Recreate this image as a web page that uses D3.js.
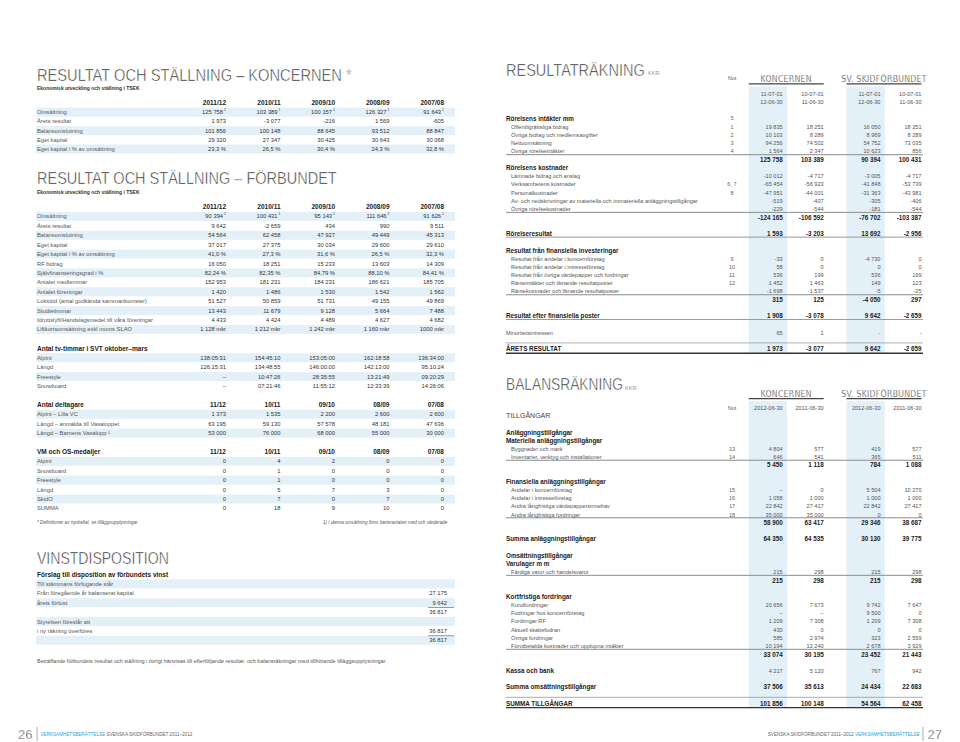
<!DOCTYPE html>
<html>
<head>
<meta charset="utf-8">
<script src="https://cdn.jsdelivr.net/npm/d3@7"></script>
<style>
body { margin: 0; background: #fff; }
svg text { font-family: "Liberation Sans", Arial, sans-serif; fill: #4a4a4a; }
svg text.ttl { font-family: "Liberation Sans", Arial, sans-serif; fill: #222; stroke: #fff; stroke-width: 0.55px; }
svg text.pg { font-family: "Liberation Sans", Arial, sans-serif; fill: #333; stroke: #fff; stroke-width: 0.4px; }
svg text.grp { font-family: "Liberation Sans Narrow", "DejaVu Sans Condensed", sans-serif; fill: #333; stroke: #fff; stroke-width: 0.25px; }
</style>
</head>
<body>
<div id="chart"></div>
<script>

// ---------- left page data ----------
var years = ["2011/12", "2010/11", "2009/10", "2008/09", "2007/08"];
var seasons = ["11/12", "10/11", "09/10", "08/09", "07/08"];

var koncernLabels = ["Omsättning", "Årets resultat", "Balansomslutning", "Eget kapital", "Eget kapital i % av omsättning"];
var koncernValues = [
    [125758, 103389, 100157, 126327, 91643],
    [1973, -3077, -216, 1569, -605],
    [101856, 100148, 88645, 93512, 88847],
    [29320, 27347, 30425, 30643, 30068],
    [23.3, 26.5, 30.4, 24.3, 32.8]
];
var koncernFormats = ["n", "n", "n", "n", "p1"];
var koncernNotes = ["1", "", "", "", ""];

var forbundLabels = ["Omsättning", "Årets resultat", "Balansomslutning", "Eget kapital",
    "Eget kapital i % av omsättning", "RF bidrag", "Självfinansieringsgrad i %", "Antalet medlemmar",
    "Antalet föreningar", "Lokstöd (antal godkända sammankomster)", "Studietimmar",
    "Idrottslyft/Handslagsmedel till våra föreningar", "Liftkortsomsättning exkl moms SLAO"];
var forbundValues = [
    [90394, 100431, 95143, 111646, 91626],
    [9642, -2659, 434, 990, 9511],
    [54564, 62458, 47927, 49449, 45313],
    [37017, 27375, 30034, 29600, 29610],
    [41.0, 27.3, 31.6, 26.5, 32.3],
    [16050, 18251, 15233, 13603, 14309],
    [82.24, 82.35, 84.79, 88.10, 84.41],
    [152953, 181231, 184231, 186621, 185705],
    [1420, 1486, 1530, 1542, 1562],
    [51527, 50859, 51731, 49155, 49869],
    [13443, 11679, 9128, 5664, 7488],
    [4433, 4424, 4489, 4627, 4682],
    [1128, 1212, 1242, 1160, "1000 mkr"]
];
var forbundFormats = ["n", "n", "n", "n", "p1", "n", "p2", "n", "n", "n", "n", "n", "mkr"];
var forbundNotes = ["1", "", "", "", "", "", "", "", "", "", "", "", ""];

var svtLabels = ["Alpint", "Längd", "Freestyle", "Snowboard"];
var svtValues = [
    ["138:05:31", "154:45:10", "153:05:00", "162:18:58", "136:34:00"],
    ["126:15:31", "134:48:55", "146:00:00", "142:13:00", "95:10:24"],
    [null, "10:47:26", "28:35:55", "13:21:49", "09:20:29"],
    [null, "07:21:46", "11:55:12", "12:33:39", "14:26:06"]
];

var deltagareLabels = ["Alpint – Lilla VC", "Längd – anmälda till Vasaloppet", "Längd – Barnens Vasalopp ¹"];
var deltagareValues = [
    [1373, 1535, 2200, 2600, 2600],
    [63195, 59130, 57578, 48181, 47636],
    [53000, 76000, 68000, 55000, 30000]
];

var medalLabels = ["Alpint", "Snowboard", "Freestyle", "Längd", "SkidO", "SUMMA"];
var medalValues = [
    [0, 4, 2, 0, 0],
    [0, 1, 0, 0, 0],
    [0, 1, 0, 0, 0],
    [0, 5, 7, 3, 0],
    [0, 7, 0, 7, 0],
    [0, 18, 9, 10, 0]
];

var vinstLabels = ["Till stämmans förfogande står", "Från föregående år balanserat kapital", "årets förlust", "",
    "Styrelsen föreslår att", "i ny räkning överföres", ""];
var vinstValues = [null, 27175, 9642, 36817, null, 36817, 36817];
var vinstSums = [false, false, false, true, false, false, true];

// ---------- right page data ----------
var groups = ["KONCERNEN", "SV. SKIDFÖRBUNDET"];
var resultPeriods = [["11-07-01", "12-06-30"], ["10-07-01", "11-06-30"]];
var balansDates = ["2012-06-30", "2011-06-30"];

var resultRows = [
    {label: "Rörelsens intäkter mm", note: "5", kind: "head"},
    {label: "Offentligrättsliga bidrag", note: "1", values: [19835, 18251, 16050, 18251]},
    {label: "Övriga bidrag och medlemsavgifter", note: "2", values: [10103, 8289, 8969, 8289]},
    {label: "Nettoomsättning", note: "3", values: [94256, 74502, 54752, 73035]},
    {label: "Övriga rörelseintäkter", note: "4", values: [1564, 2347, 10623, 856]},
    {kind: "sum", values: [125758, 103389, 90394, 100431]},
    {label: "Rörelsens kostnader", kind: "head"},
    {label: "Lämnade bidrag och anslag", values: [-10012, -4717, -3005, -4717]},
    {label: "Verksamhetens kostnader", note: "6, 7", values: [-65454, -56923, -41848, -53739]},
    {label: "Personalkostnader", note: "8", values: [-47951, -44001, -31363, -43981]},
    {label: "Av- och nedskrivningar av materiella och immateriella anläggningstillgångar", values: [-519, -407, -305, -406]},
    {label: "Övriga rörelsekostnader", values: [-229, -544, -181, -544]},
    {kind: "sum", values: [-124165, -106592, -76702, -103387]},
    {label: "Rörelseresultat", kind: "keyRule", values: [1593, -3203, 13692, -2956]},
    {label: "Resultat från finansiella investeringar", kind: "head"},
    {label: "Resultat från andelar i koncernföretag", note: "9", values: [-33, 0, -4730, 0]},
    {label: "Resultat från andelar i intresseföretag", note: "10", values: [58, 0, 0, 0]},
    {label: "Resultat från övriga värdepapper och fordringar", note: "11", values: [536, 199, 536, 199]},
    {label: "Ränteintäkter och liknande resultatposter", note: "12", values: [1452, 1463, 149, 123]},
    {label: "Räntekostnader och liknande resultatposter", values: [-1698, -1537, -5, -25]},
    {kind: "sum", values: [315, 125, -4050, 297]},
    {label: "Resultat efter finansiella poster", kind: "keyRule", values: [1908, -3078, 9642, -2659]},
    {label: "Minoritetsintressen", kind: "plain", values: [65, 1, "-", "-"]},
    {label: "ÅRETS RESULTAT", kind: "total", values: [1973, -3077, 9642, -2659]}
];

var balansRows = [
    {label: "TILLGÅNGAR", kind: "section"},
    {label: "Anläggningstillgångar", kind: "head"},
    {label: "Materiella anläggningstillgångar", kind: "head"},
    {label: "Byggnader och mark", note: "13", values: [4804, 577, 419, 577]},
    {label: "Inventarier, verktyg och installationer", note: "14", values: [646, 541, 365, 511]},
    {kind: "sum", values: [5450, 1118, 784, 1088]},
    {label: "Finansiella anläggningstillgångar", kind: "head"},
    {label: "Andelar i koncernföretag", note: "15", values: [null, 0, 5504, 10270]},
    {label: "Andelar i intresseföretag", note: "16", values: [1058, 1000, 1000, 1000]},
    {label: "Andra långfristiga värdepappersinnehav", note: "17", values: [22842, 27417, 22842, 27417]},
    {label: "Andra långfristiga fordringar", note: "18", values: [35000, 35000, 0, 0]},
    {kind: "sum", values: [58900, 63417, 29346, 38687]},
    {label: "Summa anläggningstillgångar", kind: "key", values: [64350, 64535, 30130, 39775]},
    {label: "Omsättningstillgångar", kind: "head"},
    {label: "Varulager  m m", kind: "head"},
    {label: "Färdiga varor och handelsvaror", values: [215, 298, 215, 298]},
    {kind: "sum", values: [215, 298, 215, 298]},
    {label: "Kortfristiga fordringar", kind: "head"},
    {label: "Kundfordringar", values: [20656, 7673, 9742, 7647]},
    {label: "Fodringar hos koncernföretag", values: [null, null, 9500, 0]},
    {label: "Fordringar RF", values: [1209, 7308, 1209, 7308]},
    {label: "Aktuell skattefodran", values: [430, 0, 0, 0]},
    {label: "Övriga fordringar", values: [585, 2974, 323, 2559]},
    {label: "Förutbetalda kostnader och upplupna intäkter", values: [10194, 12240, 2678, 3929]},
    {kind: "sum", values: [33074, 30195, 23452, 21443]},
    {label: "Kassa och bank", kind: "keyPlain", values: [4217, 5120, 767, 942]},
    {label: "Summa omsättningstillgångar", kind: "key", values: [37506, 35613, 24434, 22683]},
    {label: "SUMMA TILLGÅNGAR", kind: "total", values: [101856, 100148, 54564, 62458]}
];

// ---------- setup ----------
var shade = "#e4f0f8";
var svg = d3.select("#chart").append("svg")
    .attr("width", 960)
    .attr("height", 742);

var sv = d3.formatLocale({decimal: ",", thousands: "\u00a0", grouping: [3], currency: ["", ""], minus: "-"});
var fInt = sv.format(",.0f"), f1 = sv.format(",.1f"), f2 = sv.format(",.2f");

function fmt(v, kind) {
    if (v === null || v === undefined) return "–";
    if (typeof v === "string") return v;
    if (kind === "p1") return f1(v) + " %";
    if (kind === "p2") return f2(v) + " %";
    if (kind === "mkr") return fInt(v) + " mkr";
    return fInt(v);
}

// page titles: light, tall and narrow -> squeeze a regular face to the measured width
function title(x, y, t, w) {
    var el = svg.append("text")
        .attr("class", "ttl")
        .attr("font-size", 17)
        .text(t);
    var nat = el.node().getComputedTextLength();
    el.attr("transform", "translate(" + x + "," + y + ") scale(" + (w / nat) + ",1)");
    return el;
}

function label(g, x, y, t, size, weight, anchor, fill) {
    return g.append("text")
        .attr("x", x)
        .attr("y", y)
        .attr("dy", "0.35em")
        .attr("font-size", size)
        .attr("font-weight", weight || "normal")
        .attr("text-anchor", anchor || "start")
        .style("fill", fill || null)
        .text(t);
}

// ---------- left page ----------
var left = svg.append("g").attr("class", "left-page");
var colL = d3.scalePoint().domain(d3.range(5)).range([226, 444]);

// one block of rows: optional header row, then striped data rows
function leftBlock(y, unit0, head, cols, labels, values, formats, notes) {
    var g = left.append("g");
    if (head) label(g, 37, y(unit0), head, 6.5, "bold", "start", "#222");
    if (cols) {
        cols.forEach(function(c, i) {
            label(g, colL(i), y(unit0), c, 6.5, "bold", "end", "#222");
        });
    }
    labels.forEach(function(l, r) {
        var yy = y(unit0 + 1 + r);
        if (r % 2 === 0) {
            g.append("rect")
                .attr("x", 36).attr("y", yy - 4.5)
                .attr("width", 419).attr("height", 9)
                .style("fill", shade);
        }
        label(g, 37, yy, l, 5.8, "normal", "start", "#555");
        values[r].forEach(function(v, i) {
            var t = label(g, colL(i), yy, fmt(v, formats ? formats[r] : "n"), 5.8, "normal", "end", "#333");
            if (notes && notes[r]) {
                t.append("tspan").attr("font-size", 3.5).attr("dy", "-0.9em").text(" " + notes[r]);
            }
        });
    });
}

title(37, 80.5, "RESULTAT OCH STÄLLNING – KONCERNEN *", 315);
label(left, 37, 88, "Ekonomisk utveckling och ställning i TSEK", 5, "bold", "start", "#333");
var yK = d3.scaleLinear().domain([0, 1]).range([103, 112.2]);
leftBlock(yK, 0, null, years, koncernLabels, koncernValues, koncernFormats, koncernNotes);

title(37, 184, "RESULTAT OCH STÄLLNING – FÖRBUNDET", 300);
label(left, 37, 192, "Ekonomisk utveckling och ställning i TSEK", 5, "bold", "start", "#333");
var yF = d3.scaleLinear().domain([0, 1]).range([207, 216.42]);
leftBlock(yF, 0, null, years, forbundLabels, forbundValues, forbundFormats, forbundNotes);
leftBlock(yF, 15, "Antal tv-timmar i SVT oktober–mars", null, svtLabels, svtValues, null, null);
leftBlock(yF, 21, "Antal deltagare", seasons, deltagareLabels, deltagareValues, null, null);
leftBlock(yF, 26, "VM och OS-medaljer", seasons, medalLabels, medalValues, null, null);

label(left, 37, yF(33.5), "* Definitioner av nyckeltal, se tilläggsupplysningar", 4.6, "normal", "start", "#555")
    .attr("font-style", "italic");
label(left, 323, yF(33.5), "1) I denna omsättning finns barteravtalen med och värderade", 4.6, "normal", "start", "#555")
    .attr("font-style", "italic");

// vinstdisposition
title(37, 563.5, "VINSTDISPOSITION", 132);
var yV = d3.scaleLinear().domain([0, 1]).range([574.5, 583.9]);
label(left, 37, yV(0), "Förslag till disposition av förbundets vinst", 6.5, "bold", "start", "#222");
vinstLabels.forEach(function(l, r) {
    var yy = yV(r + 1);
    if (r % 2 === 0) {
        left.append("rect")
            .attr("x", 36).attr("y", yy - 4.5)
            .attr("width", 419).attr("height", 9)
            .style("fill", shade);
    }
    if (vinstSums[r]) {
        left.append("line")
            .attr("x1", 428).attr("x2", 454)
            .attr("y1", yy - 4.6).attr("y2", yy - 4.6)
            .attr("stroke", "#555").attr("stroke-width", 0.6);
    }
    label(left, 37, yy, l, 5.8, "normal", "start", "#555");
    if (vinstValues[r] !== null) label(left, 447, yy, fmt(vinstValues[r]), 5.8, "normal", "end", "#333");
});
label(left, 37, 661, "Beträffande förbundets resultat och ställning i övrigt hänvisas till efterföljande resultat- och balansräkningar med tillhörande tilläggsupplysningar.",
    5.5, "normal", "start", "#555");

// ---------- right page ----------
var right = svg.append("g").attr("class", "right-page");
var shadeLayer = right.append("g").attr("class", "col-shade");
var groupX = d3.scalePoint().domain(groups).range([782.7, 880.5]);
var innerX = d3.scalePoint().domain([0, 1]).range([0, 41]);
function colX(i) { return groupX(groups[Math.floor(i / 2)]) + innerX(i % 2); }

var KEYS = ["key", "keyRule", "keyPlain", "total"];

function groupHeader(yText) {
    groups.forEach(function(gname) {
        var x0 = groupX(gname) - 34, x1 = groupX(gname) + innerX(1);
        right.append("text")
            .attr("class", "grp")
            .attr("x", (x0 + x1) / 2)
            .attr("y", yText)
            .attr("font-size", 8.6)
            .attr("text-anchor", "middle")
            .attr("letter-spacing", 0.3)
            .text(gname);
        right.append("line")
            .attr("x1", x0).attr("x2", x1)
            .attr("y1", yText + 1.6).attr("y2", yText + 1.6)
            .attr("stroke", "#444").attr("stroke-width", 1.4);
    });
}

function statement(rows, y, firstGap, sumHeadGap, shadeTop) {
    var g = right.append("g");
    var lines = g.append("g");
    var texts = g.append("g");
    var u = 0, prev = null;
    rows.forEach(function(r, i) {
        var gap = 1;
        if (i === 0) gap = firstGap;
        else if (KEYS.indexOf(r.kind) >= 0 || KEYS.indexOf(prev) >= 0) gap = 2;
        else if (r.kind === "head" && prev === "section") gap = 2;
        else if (r.kind === "head" && prev === "sum") gap = sumHeadGap;
        u += gap;
        r.u = u;
        prev = r.kind;
    });
    var last = rows[rows.length - 1];
    var bottom = y(last.u) + 4;

    // shaded current-year columns
    [0, 2].forEach(function(c) {
        shadeLayer.append("rect")
            .attr("x", colX(c) - 34).attr("y", shadeTop)
            .attr("width", 38.3).attr("height", bottom - shadeTop)
            .style("fill", shade);
    });

    rows.forEach(function(r) {
        var yy = y(r.u);
        var bold = ["head", "key", "keyRule", "keyPlain", "total"].indexOf(r.kind) >= 0;
        var x = (r.kind === "item" || !r.kind) ? 511 : 506;
        if (r.label) {
            if (r.kind === "section") label(texts, 506, yy, r.label, 7, "normal", "start", "#444");
            else label(texts, x, yy, r.label, bold ? 6.3 : 5.6, bold ? "bold" : "normal", "start", bold ? "#222" : "#555");
        }
        if (r.note) label(texts, 732, yy, r.note, 5.6, "normal", "middle", "#666");
        if (r.values) {
            var vb = r.kind === "sum" || r.kind === "key" || r.kind === "keyRule" || r.kind === "total";
            r.values.forEach(function(v, i) {
                label(texts, colX(i), yy, fmt(v), vb ? 6.3 : 5.6, vb ? "bold" : "normal", "end", vb ? "#222" : "#555");
            });
        }
        if (r.kind === "sum") {
            lines.append("line")
                .attr("x1", 506).attr("x2", 923)
                .attr("y1", yy - 5).attr("y2", yy - 5)
                .attr("stroke", "#8c8c8c").attr("stroke-width", 1);
        }
        if (r.kind === "keyRule") {
            lines.append("line")
                .attr("x1", 506).attr("x2", 923)
                .attr("y1", yy + 3.3).attr("y2", yy + 3.3)
                .attr("stroke", "#999").attr("stroke-width", 1);
        }
        if (r.kind === "total") {
            lines.append("line")
                .attr("x1", 506).attr("x2", 923)
                .attr("y1", yy - 6.3).attr("y2", yy - 6.3)
                .attr("stroke", "#999").attr("stroke-width", 0.8);
            lines.append("line")
                .attr("x1", 506).attr("x2", 923)
                .attr("y1", yy + 4).attr("y2", yy + 4)
                .attr("stroke", "#333").attr("stroke-width", 1.4);
        }
    });
}

// resultaträkning
title(506, 75.7, "RESULTATRÄKNING", 139);
label(right, 648, 73.5, "KKR", 5.6, "normal", "start", "#999");
label(right, 732, 78, "Not", 5.6, "normal", "middle", "#666");
groupHeader(82.3);
var yR = d3.scaleLinear().domain([0, 1]).range([102, 110.24]);
resultPeriods.forEach(function(p, k) {
    [0, 2].forEach(function(g0) {
        label(right, colX(g0 + k), yR(-1), p[0], 5.6, "normal", "end", "#555");
        label(right, colX(g0 + k), yR(0), p[1], 5.6, "normal", "end", "#555");
    });
});
statement(resultRows, yR, 2, 1, 86.5);

// balansräkning
title(506, 390, "BALANSRÄKNING", 117);
label(right, 625, 387.8, "KKR", 5.6, "normal", "start", "#999");
groupHeader(397);
var yB = d3.scaleLinear().domain([0, 1]).range([407.7, 415.92]);
label(right, 732, yB(0), "Not", 5.6, "normal", "middle", "#666");
balansDates.forEach(function(d, k) {
    [0, 2].forEach(function(g0) {
        label(right, colX(g0 + k), yB(0), d, 5.6, "normal", "end", "#555");
    });
});
statement(balansRows, yB, 1, 2, 401);

// ---------- footers ----------
function footer(g, items, x, anchor) {
    var t = g.append("text")
        .attr("x", x).attr("y", 734)
        .attr("dy", "0.35em")
        .attr("font-size", 4.6)
        .attr("text-anchor", anchor);
    items.forEach(function(it) {
        t.append("tspan").style("fill", it[1]).text(it[0]);
    });
}
svg.append("text").attr("class", "pg").attr("x", 18).attr("y", 738.5).attr("font-size", 13).text("26");
svg.append("line").attr("x1", 37).attr("x2", 37).attr("y1", 727).attr("y2", 741).attr("stroke", "#777").attr("stroke-width", 0.6);
footer(svg, [["VERKSAMHETSBERÄTTELSE ", "#2aa6d4"], ["SVENSKA SKIDFÖRBUNDET 2011–2012", "#666"]], 40.5, "start");

svg.append("text").attr("class", "pg").attr("x", 927.5).attr("y", 738.5).attr("font-size", 13).text("27");
svg.append("line").attr("x1", 923).attr("x2", 923).attr("y1", 727).attr("y2", 741).attr("stroke", "#777").attr("stroke-width", 0.6);
footer(svg, [["SVENSKA SKIDFÖRBUNDET 2011–2012 ", "#666"], ["VERKSAMHETSBERÄTTELSE", "#2aa6d4"]], 919.5, "end");

</script>
</body>
</html>
